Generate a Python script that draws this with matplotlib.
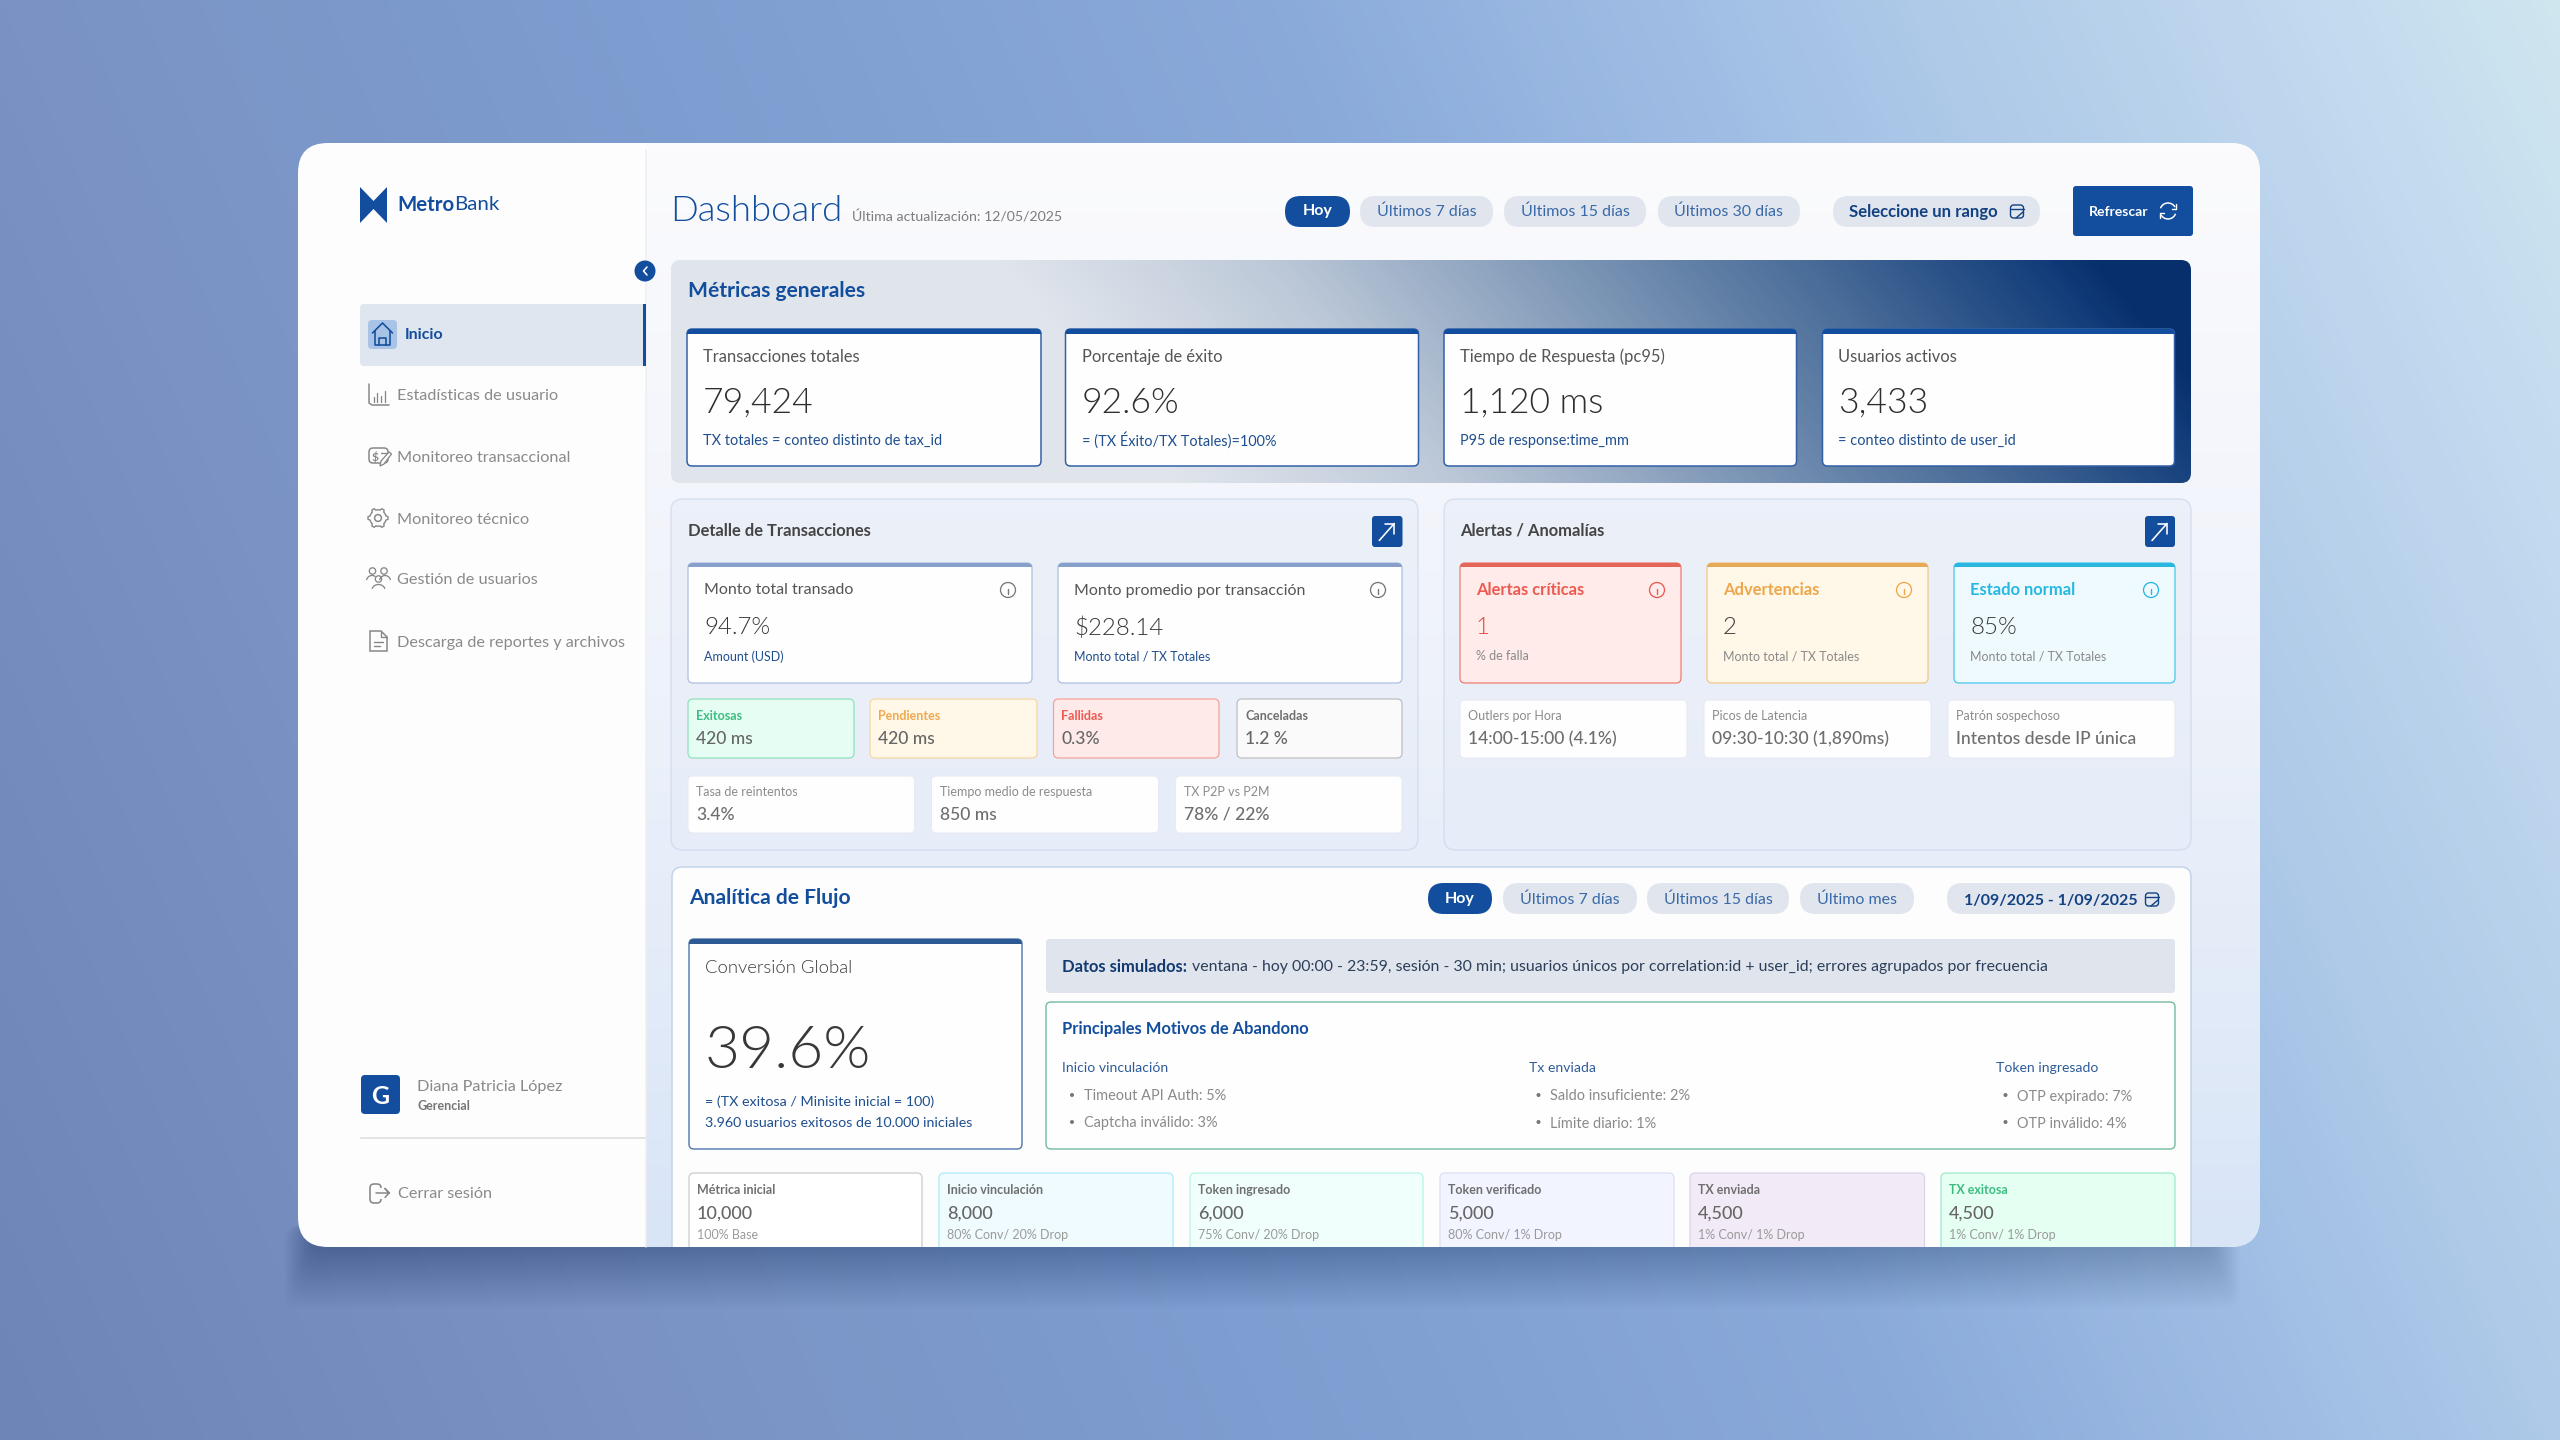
import re
import numpy as np
import matplotlib
matplotlib.use("Agg")
import matplotlib.pyplot as plt
import matplotlib.patheffects as pe
from matplotlib import font_manager as fm
from matplotlib.patches import FancyBboxPatch, Rectangle, Circle, Polygon, Arc
from matplotlib.colors import LinearSegmentedColormap

plt.rcParams['font.family'] = ['Lato', 'DejaVu Sans']

# ---------- content ----------
nav_active = "Inicio"
nav_items = ["Estadísticas de usuario", "Monitoreo transaccional", "Monitoreo técnico",
             "Gestión de usuarios", "Descarga de reportes y archivos"]
user_initial = "G"
user_name = "Diana Patricia López"
user_role = "Gerencial"
logout_label = "Cerrar sesión"
page_title = "Dashboard"
page_updated = "Última actualización: 12/05/2025"
top_ranges = ["Hoy", "Últimos 7 días", "Últimos 15 días", "Últimos 30 días"]
top_range_picker = "Seleccione un rango"
refresh_label = "Refrescar"

general_title = "Métricas generales"
general_labels = ["Transacciones totales", "Porcentaje de éxito", "Tiempo de Respuesta (pc95)", "Usuarios activos"]
general_values = ["79,424", "92.6%", "1,120 ms", "3,433"]
general_notes = ["TX totales = conteo distinto de tax_id", "= (TX Éxito/TX Totales)=100%",
                 "P95 de response:time_mm", "= conteo distinto de user_id"]

detail_title = "Detalle de Transacciones"
detail_labels = ["Monto total transado", "Monto promedio por transacción"]
detail_values = ["94.7%", "$228.14"]
detail_notes = ["Amount (USD)", "Monto total / TX Totales"]
status_labels = ["Exitosas", "Pendientes", "Fallidas", "Canceladas"]
status_values = ["420 ms", "420 ms", "0.3%", "1.2 %"]
extra_labels = ["Tasa de reintentos", "Tiempo medio de respuesta", "TX P2P vs P2M"]
extra_values = ["3.4%", "850 ms", "78% / 22%"]

alerts_title = "Alertas / Anomalías"
alert_labels = ["Alertas críticas", "Advertencias", "Estado normal"]
alert_values = ["1", "2", "85%"]
alert_notes = ["% de falla", "Monto total / TX Totales", "Monto total / TX Totales"]
anomaly_labels = ["Outlers por Hora", "Picos de Latencia", "Patrón sospechoso"]
anomaly_values = ["14:00-15:00 (4.1%)", "09:30-10:30 (1,890ms)", "Intentos desde IP única"]

flow_title = "Analítica de Flujo"
flow_ranges = ["Hoy", "Últimos 7 días", "Últimos 15 días", "Último mes"]
flow_date = "1/09/2025 - 1/09/2025"
conv_label = "Conversión Global"
conv_value = "39.6%"
conv_notes = ["= (TX exitosa / Minisite inicial = 100)", "3.960 usuarios exitosos de 10.000 iniciales"]
sim_head = "Datos simulados:"
sim_text = "ventana - hoy 00:00 - 23:59, sesión - 30 min; usuarios únicos por correlation:id + user_id; errores agrupados por frecuencia"
reasons_title = "Principales Motivos de Abandono"
reason_groups = ["Inicio vinculación", "Tx enviada", "Token ingresado"]
reason_items = [["Timeout API Auth: 5%", "Captcha inválido: 3%"],
                ["Saldo insuficiente: 2%", "Límite diario: 1%"],
                ["OTP expirado: 7%", "OTP inválido: 4%"]]
step_labels = ["Métrica inicial", "Inicio vinculación", "Token ingresado", "Token verificado", "TX enviada", "TX exitosa"]
step_values = [10000, 8000, 6000, 5000, 4500, 4500]
step_notes = ["100% Base", "80% Conv/ 20% Drop", "75% Conv/ 20% Drop", "80% Conv/ 1% Drop", "1% Conv/ 1% Drop", "1% Conv/ 1% Drop"]

# ---------- palette ----------
NAVY = "#134E9E"
LINK = "#1F4F8F"
GREY = "#8A8A8A"
DARK = "#454545"

# ---------- fonts ----------
_files = sorted({f.fname for f in fm.fontManager.ttflist if "lato" in f.fname.lower()})


def _font_file(pattern):
    for f in _files:
        if re.search(pattern, f.split("/")[-1], re.I) and "italic" not in f.lower():
            return f
    return None


_light = _font_file(r"lato-light\.")
_medium = _font_file(r"lato-(semibold|medium)\.")


def fontprops(size, weight):
    if weight == "light" and _light:
        return fm.FontProperties(fname=_light, size=size)
    if weight == "medium" and _medium:
        return fm.FontProperties(fname=_medium, size=size)
    if weight in ("light", "normal", "medium"):
        return fm.FontProperties(family="Lato", weight="normal", size=size)
    return fm.FontProperties(family="Lato", weight=weight, size=size)


# ---------- canvas ----------
W, H = 2560, 1440
fig = plt.figure(figsize=(W / 100, H / 100), dpi=100)
ax = fig.add_axes([0, 0, 1, 1])
ax.set_axis_off()
renderer = fig.canvas.get_renderer()


def px(v):
    return v * 0.72


def rrect(x0, y0, x1, y1, r=6, fc="white", ec="none", lw=1.0, z=2, alpha=None, clip=None):
    p = FancyBboxPatch((x0, y0), x1 - x0, y1 - y0, boxstyle=f"round,pad=0,rounding_size={r}",
                       fc=fc, ec=ec, lw=px(lw), zorder=z, alpha=alpha)
    ax.add_patch(p)
    if clip is not None:
        p.set_clip_path(clip)
    return p


def label(x, y, s, size, color=DARK, weight="normal", ha="left", z=6):
    t = ax.text(x, y, s, fontproperties=fontprops(px(size), weight), color=color, ha=ha,
                va="center_baseline", zorder=z)
    if weight == "medium" and not _medium:
        t.set_path_effects([pe.withStroke(linewidth=0.5, foreground=color)])
    return t


def line(xs, ys, color, lw=1.5, z=6):
    l, = ax.plot(xs, ys, color=color, lw=px(lw), zorder=z, solid_capstyle="round", solid_joinstyle="round")
    return l


def gradient(stops, field, extent, clip, z):
    cmap = LinearSegmentedColormap.from_list("g", stops)
    im = ax.imshow(field, cmap=cmap, vmin=0, vmax=1, extent=extent, aspect="auto",
                   interpolation="bilinear", zorder=z)
    im.set_clip_path(clip)
    return im


def card(x0, y0, x1, y1, fc, ec, band=None, band_h=5, r=5, lw=1.2, clip=None, z=3):
    p = rrect(x0, y0, x1, y1, r=r, fc=fc, ec=ec, lw=lw, z=z, clip=clip)
    if band:
        b = Rectangle((x0 - 1, y0 - 1), x1 - x0 + 2, band_h + 1, fc=band, ec="none", zorder=z + 0.5)
        ax.add_patch(b)
        b.set_clip_path(p)
    return p


def info_icon(cx, cy, color):
    ax.add_patch(Circle((cx, cy), 7.5, fc="none", ec=color, lw=px(1.3), zorder=6))
    line([cx, cx], [cy - 1, cy + 3.5], color, 1.4)
    line([cx, cx], [cy - 3.8, cy - 3.6], color, 1.6)


def calendar_icon(cx, cy, color):
    rrect(cx - 6.5, cy - 6, cx + 6.5, cy + 7, r=3, fc="none", ec=color, lw=1.4, z=6)
    line([cx - 6.5, cx + 6.5], [cy - 2, cy - 2], color, 1.4)
    line([cx - 1, cx + 6], [cy + 7, cy + 1], color, 1.4)


def refresh_icon(cx, cy, color):
    ax.add_patch(Arc((cx, cy), 16, 16, theta1=200, theta2=330, ec=color, lw=px(1.5), zorder=6))
    ax.add_patch(Arc((cx, cy), 16, 16, theta1=20, theta2=150, ec=color, lw=px(1.5), zorder=6))
    line([cx + 8, cx + 8, cx + 4], [cy - 7, cy - 2, cy - 2], color, 1.4)
    line([cx - 8, cx - 8, cx - 4], [cy + 7, cy + 2, cy + 2], color, 1.4)


def arrow_button(x0, y0, x1, y1):
    rrect(x0, y0, x1, y1, r=3, fc=NAVY, z=5)
    cx, cy = (x0 + x1) / 2, (y0 + y1) / 2
    line([cx - 8, cx + 7], [cy + 9, cy - 8], "white", 1.6)
    line([cx - 2, cx + 7, cx + 7], [cy - 8, cy - 8, cy + 2], "white", 1.6)


def pill(x0, x1, y0, y1, active=False, bold=False):
    rrect(x0, y0, x1, y1, r=(y1 - y0) / 2, fc=NAVY if active else "#E1E6EE", z=4)
    return "white" if active else ("#134282" if bold else "#3A69A8")


# ---------- background ----------
yy, xx = np.mgrid[0:1:180j, 0:1:320j]
bg_t = 0.8 * xx + 0.2 * (1 - yy)
gradient_stops = [(0, "#6E86B7"), (.2, "#7A93C4"), (.4, "#7E9DD0"), (.6, "#8AAADA"),
                  (.76, "#A6C3E7"), (.8, "#AECAE8"), (.92, "#C2D9EF"), (1, "#CFE6EF")]
bg_cmap = LinearSegmentedColormap.from_list("bg", gradient_stops)
ax.imshow(bg_t, cmap=bg_cmap, vmin=0, vmax=1, extent=(0, W, H, 0), aspect="auto",
          interpolation="bilinear", zorder=0)

# ---------- window ----------
WX0, WY0, WX1, WY1 = 298, 143, 2260, 1247
for i in range(40):
    g = 62 - i * 1.5
    rrect(284 + i * 0.7, 1225, 2240 - i * 0.7, WY1 + g, r=16, fc="#3A4A72", z=1, alpha=0.0055)
window = rrect(WX0, WY0, WX1, WY1, r=30, fc="#FDFDFD", z=2)
my, mx = np.mgrid[0:1:100j, 0:1:100j]
gradient(["#FBFBFD", "#EEF2FA", "#D8E5F7"], my, (646, WX1, WY1, WY0), window, 2.1)
line([646, 646], [150, WY1], "#ECEFF4", 1.5, z=2.2)

# ---------- sidebar ----------
ax.add_patch(Polygon([(360, 187), (373.5, 201), (387, 187), (387, 223), (373.5, 209), (360, 223)],
                     closed=True, fc=NAVY, ec="none", zorder=4))
t1 = label(397, 203, "Metro", 20.5, NAVY, "bold")
t1_w = t1.get_window_extent(renderer).width
label(397 + t1_w, 203, "Bank", 20.5, NAVY)

ax.add_patch(Circle((645, 271), 10.5, fc=NAVY, ec="none", zorder=5))
line([647, 643.5, 647], [267, 271, 275], "white", 1.6)

rrect(360, 304, 646, 366, r=4, fc="#E0E6EF", z=3)
ax.add_patch(Rectangle((643, 304), 3, 62, fc=NAVY, ec="none", zorder=4))
rrect(368, 320, 397, 349, r=4, fc="#A9C3E6", z=4)
line([372.5, 382.5, 392.5], [333, 323, 333], NAVY, 1.6)
line([375, 375, 390, 390], [331, 345, 345, 331], NAVY, 1.6)
line([379, 379, 386, 386], [345, 338, 338, 345], NAVY, 1.6)
label(405, 333.5, nav_active, 16, NAVY, "bold")

nav_ys = [395, 456, 518, 579, 641]
IC = "#868686"
for name, y in zip(nav_items, nav_ys):
    label(397, y, name, 16.2, GREY)
# chart icon
y = nav_ys[0]
line([369, 369, 372, 389], [y - 11, y + 8, y + 10, y + 10], IC)
for dx, h in zip([373.5, 377, 380.5, 384.5], [5, 9, 6, 11]):
    line([dx, dx], [y + 7, y + 7 - h], IC, 1.3)
# money icon
y = nav_ys[1]
rrect(369, y - 8, 388, y + 7, r=4, fc="none", ec=IC, lw=1.5, z=6)
label(375, y, "$", 12, IC, "bold", ha="center")
ax.add_patch(Polygon([(381, y + 5), (389, y - 4), (391.5, y - 2), (384, y + 8), (380, y + 10)],
                     closed=True, fc="#FDFDFD", ec=IC, lw=px(1.3), zorder=6.2))
line([381, 387], [y - 3, y - 3], IC, 1.3)
# gear icon
y = nav_ys[2]
ax.add_patch(Circle((378, y), 3.4, fc="none", ec=IC, lw=px(1.5), zorder=6))
ang = np.deg2rad(np.arange(0, 360, 7.5))
rad = 8.2 + 1.8 * (np.cos(ang * 6) > 0.1)
ax.add_patch(Polygon(np.c_[378 + rad * np.cos(ang), y + rad * np.sin(ang)], closed=True, fc="none", ec=IC,
                     lw=px(1.4), zorder=6))
# people icon
y = nav_ys[3]
for cx, cy in [(372.5, y - 8), (384, y - 8), (378.5, y)]:
    ax.add_patch(Circle((cx, cy), 3.2, fc="none", ec=IC, lw=px(1.3), zorder=6))
for cx, cy, wd in [(372, y + 2, 11), (385, y + 2, 11), (378.5, y + 11, 13)]:
    ax.add_patch(Arc((cx, cy), wd, 11, theta1=190, theta2=310 if cx < 378 else 350, ec=IC, lw=px(1.3), zorder=6))
# document icon
y = nav_ys[4]
ax.add_patch(Polygon([(370, y - 10), (381, y - 10), (387, y - 4), (387, y + 10), (370, y + 10)],
                     closed=True, fc="none", ec=IC, lw=px(1.5), zorder=6))
line([381, 381, 387], [y - 10, y - 4, y - 4], IC, 1.3)
line([374, 383], [y + 1, y + 1], IC, 1.4)
line([374, 380], [y + 5, y + 5], IC, 1.4)

rrect(361, 1075, 400, 1114, r=4, fc=NAVY, z=4)
label(380.5, 1095, user_initial, 25, "white", "bold", ha="center")
label(417, 1085, user_name, 16.2, GREY)
label(417, 1105, user_role, 12.5, "#777777", "bold")
line([361, 645], [1138, 1138], "#E3E3E3", 2)
rrect(370, 1184, 381, 1203, r=4, fc="none", ec=IC, lw=1.6, z=6)
ax.add_patch(Rectangle((379, 1188), 5, 11, fc="#FDFDFD", ec="none", zorder=6.2))
line([376, 389, 385, 389, 385], [1193, 1193, 1188.5, 1193, 1197.5], IC, 1.5, z=6.5)
label(398, 1193, logout_label, 16.2, GREY)

# ---------- header ----------
label(670, 208, page_title, 36.5, "#134E9E", "light")
label(852, 216, page_updated, 14.1, "#7C7C7C", "normal")
top_x = [(1285, 1350), (1360, 1493), (1504, 1646), (1658, 1800)]
for i, ((a, b), s) in enumerate(zip(top_x, top_ranges)):
    col = pill(a, b, 196, 227, active=i == 0)
    label((a + b) / 2, 210, s, 16, col, "bold" if i == 0 else "normal", ha="center")
pill(1833, 2040, 196, 227, bold=True)
label(1849, 210, top_range_picker, 16.8, "#134282", "bold")
calendar_icon(2017, 211, "#134282")
rrect(2073, 186, 2193, 236, r=3, fc=NAVY, z=4)
label(2089, 211, refresh_label, 14, "white", "bold")
refresh_icon(2168, 211, "white")

# ---------- general metrics ----------
gen_panel = rrect(671, 260, 2191, 483, r=10, fc="#E0E5EC", z=3)
gy, gx = np.mgrid[260:483:60j, 671:2191:400j]
gen_t = np.clip((gx - 1000 - (gy - 260) * 0.8) / 1100, 0, 1)
gradient([(0, "#E0E5EC"), (.25, "#BCC8D8"), (.5, "#8099B8"), (.73, "#4A6D99"), (.95, "#123D7A"), (1, "#072F6C")],
         gen_t, (671, 2191, 483, 260), gen_panel, 3.1)
label(688, 289, general_title, 21, "#134E9E", "bold")
gen_x = [(687, 1041), (1065.5, 1418.5), (1444, 1796.5), (1822.5, 2174.5)]
for (a, b), l, v, n in zip(gen_x, general_labels, general_values, general_notes):
    card(a, 329, b, 466, "#FEFEFE", "#2F5FA6", NAVY, 5, lw=1.5, z=4)
    label(a + 16, 355.5, l, 16.5, "#555555")
    label(a + 16, 400, v, 35.5, "#2E2E2E", "light")
    label(a + 16, 439, n, 14.5, LINK)

# ---------- detail panel ----------
PANEL_FC = "#E6ECF8"
rrect(671, 499, 1418, 850, r=12, fc=PANEL_FC, ec="#C4D3E8", lw=1.5, z=3, alpha=0.55)
label(688, 530, detail_title, 16.5, DARK, "bold")
arrow_button(1372, 516, 1402.5, 547)
det_x = [(688, 1032), (1058, 1402)]
for (a, b), l, v, n in zip(det_x, detail_labels, detail_values, detail_notes):
    card(a, 563, b, 683, "#FEFEFE", "#A9BEDD", "#86A0CB", 4, z=4)
    label(a + 16, 589, l, 16, "#555555")
    info_icon(b - 24, 590, "#777777")
    label(a + 16, 626, v, 24, "#383838", "light")
    label(a + 16, 655.5, n, 12.5, LINK)

stat_x = [(688, 854), (870, 1037), (1053.5, 1219), (1237, 1402)]
stat_fc = ["#E5FDF2", "#FFF7E8", "#FFEAEA", "#FAFAFA"]
stat_ec = ["#8CE0B8", "#F6D6A0", "#F4A09A", "#BDBDBD"]
stat_tc = ["#3DBD82", "#F0A94E", "#EE5A52", "#707070"]
for (a, b), l, v, fc, ec, tc in zip(stat_x, status_labels, status_values, stat_fc, stat_ec, stat_tc):
    card(a, 699, b, 758, fc, ec, z=4)
    label(a + 8, 715, l, 12.5, tc, "bold")
    label(a + 8, 738, v, 17.5, "#666666", "medium")

ext_x = [(688, 914.5), (931.5, 1158.5), (1175.5, 1402)]
for (a, b), l, v in zip(ext_x, extra_labels, extra_values):
    card(a, 776, b, 833, "#FEFEFE", "#E5EAF3", lw=1, z=4)
    label(a + 8, 791, l, 12.5, "#8C8C8C")
    label(a + 8, 813, v, 17.5, "#6E6E6E", "medium")

# ---------- alerts panel ----------
rrect(1444, 499, 2191, 850, r=12, fc=PANEL_FC, ec="#C4D3E8", lw=1.5, z=3, alpha=0.55)
label(1460, 529.5, alerts_title, 16.5, DARK, "bold")
arrow_button(2145, 516, 2175, 547)
al_x = [(1460, 1681), (1707, 1928), (1954, 2175)]
al_fc = ["#FFEBEA", "#FFF8E8", "#EFFAFF"]
al_ec = ["#F2776E", "#F0C67F", "#42C4EA"]
al_band = ["#E4665A", "#E5A957", "#2BB6E0"]
al_tc = ["#EC5A50", "#EDA64B", "#27B8E2"]
al_vc = ["#E8453B", "#383838", "#383838"]
for (a, b), l, v, n, fc, ec, bd, tc, vc in zip(al_x, alert_labels, alert_values, alert_notes,
                                               al_fc, al_ec, al_band, al_tc, al_vc):
    card(a, 563, b, 683, fc, ec, bd, 4, z=4)
    label(a + 16, 588.5, l, 16.5, tc, "bold")
    info_icon(b - 24, 590, tc)
    label(a + 16, 626, v, 24, vc, "light")
    label(a + 16, 655.5, n, 12.5, "#8A8A8A")

an_x = [(1460, 1687), (1704, 1931), (1948, 2175)]
for (a, b), l, v in zip(an_x, anomaly_labels, anomaly_values):
    card(a, 700, b, 758, "#FEFEFE", "#E5EAF3", lw=1, z=4)
    label(a + 8, 715, l, 12.5, "#8C8C8C")
    label(a + 8, 738, v, 17.5, "#6E6E6E", "medium")

# ---------- flow panel ----------
flow = rrect(672, 867, 2191, 1300, r=10, fc="#FDFDFE", ec="#C4D3E8", lw=1.5, z=3)
flow.set_clip_path(window)
label(689, 896.5, flow_title, 21, "#134E9E", "bold")
flow_x = [(1428, 1492), (1503, 1637), (1647, 1789), (1800, 1914)]
for i, ((a, b), s) in enumerate(zip(flow_x, flow_ranges)):
    col = pill(a, b, 883, 914, active=i == 0)
    label((a + b) / 2, 898, s, 16, col, "bold" if i == 0 else "normal", ha="center")
pill(1947, 2175, 883, 914, bold=True)
label(1964, 899, flow_date, 16, "#134282", "bold")
calendar_icon(2152, 899, "#134282")

card(689, 939, 1022, 1149, "#FEFEFE", "#5A80B0", "#2D5A94", 5, lw=1.5, z=4)
label(705, 966.5, conv_label, 18.5, "#3C3C3C", "light")
label(705, 1047, conv_value, 60.5, "#383838", "light")
label(705, 1101, conv_notes[0], 14.3, LINK)
label(705, 1122, conv_notes[1], 14.3, LINK)

rrect(1046, 939, 2175, 993, r=4, fc="#E0E5ED", z=4)
h = label(1062.5, 965, sim_head, 16.5, "#123A70", "bold")
label(1062.5 + h.get_window_extent(renderer).width + 5, 965, sim_text, 15.9, "#2B3E59")

card(1046, 1002, 2175, 1149, "#FEFEFE", "#7DBFA3", lw=1.5, z=4)
label(1062.5, 1027.5, reasons_title, 16.5, "#134E9E", "bold")
reason_x = [1062.5, 1529, 1996]
for x0, g, items in zip(reason_x, reason_groups, reason_items):
    label(x0, 1067, g, 14, "#2F5B9A")
    for y, it in zip([1095, 1122], items):
        ax.add_patch(Circle((x0 + 9.5, y), 2, fc="#777777", ec="none", zorder=6))
        label(x0 + 21, y, it, 14.5, "#8A8A8A")

step_x = [(689, 922), (939, 1173), (1190, 1423), (1440, 1674), (1690, 1924.5), (1941, 2175)]
step_fc = ["#FFFFFF", "#EFFBFF", "#F0FFFB", "#F2F4FF", "#F3EAF7", "#E5FFF3"]
step_ec = ["#C9C9C9", "#A9EBFA", "#B5F5E4", "#DADFF5", "#DDD0E6", "#9BE8C7"]
step_tc = ["#707070", "#707070", "#707070", "#707070", "#707070", "#3DBD82"]
for (a, b), l, v, n, fc, ec, tc in zip(step_x, step_labels, step_values, step_notes, step_fc, step_ec, step_tc):
    card(a, 1173, b, 1300, fc, ec, lw=1.2, clip=window, z=4)
    label(a + 8, 1189, l, 12.5, tc, "bold")
    label(a + 8, 1212, f"{v:,}", 18, "#666666", "medium")
    label(a + 8, 1234, n, 12.5, "#9A9A9A")

ax.set_xlim(0, W)
ax.set_ylim(H, 0)
fig.savefig("out.png", dpi=100)
